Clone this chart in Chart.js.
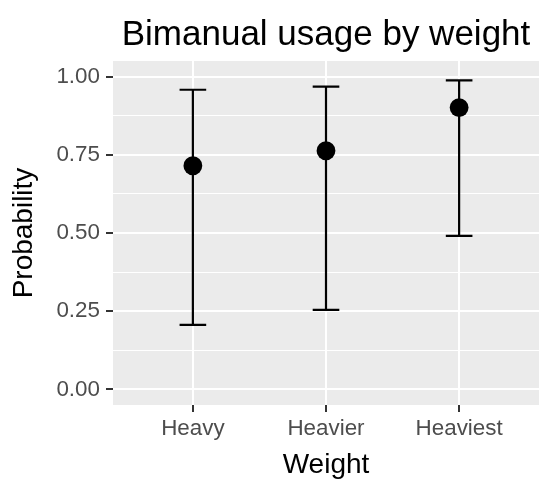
<!DOCTYPE html>
<html>
<head>
<meta charset="utf-8">
<script src="https://cdn.jsdelivr.net/npm/chart.js@4"></script>
<style>
  html, body { margin: 0; padding: 0; background: #fff; }
  #contenedor { width: 539px; height: 483px; }
</style>
</head>
<body>
<div id="contenedor"><canvas id="graficoPeso"></canvas></div>
<script>
// Datos: probabilidad estimada y su intervalo por categoría de peso
const pesos = ['Heavy', 'Heavier', 'Heaviest'];
const probabilidad = [0.715, 0.763, 0.901];
const limiteInf = [0.206, 0.254, 0.491];
const limiteSup = [0.958, 0.968, 0.988];
const ticksY = [0, 0.25, 0.5, 0.75, 1];

const FUENTE = "'Liberation Sans', Arial, Helvetica, sans-serif";
const ANCHO_BARRA = 0.1; // media anchura del remate en unidades del eje x

// ticks menores (sólo rejilla) entre los mayores
const ticksYMenores = ticksY.slice(1).map((v, i) => (v + ticksY[i]) / 2);
const todosTicksY = [...ticksY, ...ticksYMenores].sort((a, b) => a - b);
const esMayor = v => ticksY.some(t => Math.abs(t - v) < 1e-9);

// segmentos de las barras de error: vertical + dos remates, cortados con y:null
const segmentos = [];
pesos.forEach((_, i) => {
  const x = i + 1;
  segmentos.push({ x, y: limiteInf[i] }, { x, y: limiteSup[i] }, { x, y: null });
  segmentos.push({ x: x - ANCHO_BARRA, y: limiteSup[i] }, { x: x + ANCHO_BARRA, y: limiteSup[i] }, { x, y: null });
  segmentos.push({ x: x - ANCHO_BARRA, y: limiteInf[i] }, { x: x + ANCHO_BARRA, y: limiteInf[i] }, { x, y: null });
});

const puntos = probabilidad.map((p, i) => ({ x: i + 1, y: p }));

// fondo gris del panel
const fondoPanel = {
  id: 'fondoPanel',
  beforeDraw(chart) {
    const { ctx, chartArea: a } = chart;
    ctx.save();
    ctx.fillStyle = '#EBEBEB';
    ctx.fillRect(a.left, a.top, a.right - a.left, a.bottom - a.top);
    ctx.restore();
  }
};

const ctx = document.getElementById('graficoPeso').getContext('2d');
new Chart(ctx, {
  type: 'scatter',
  data: {
    datasets: [
      {
        label: 'Probabilidad',
        data: puntos,
        backgroundColor: '#000',
        borderWidth: 0,
        pointRadius: 9.4,
        order: 0
      },
      {
        label: 'Intervalo',
        data: segmentos,
        showLine: true,
        spanGaps: false,
        borderColor: '#000',
        borderWidth: 2.2,
        pointRadius: 0,
        order: 1
      }
    ]
  },
  options: {
    responsive: true,
    maintainAspectRatio: false,
    animation: false,
    layout: { padding: 0, autoPadding: false },
    plugins: {
      legend: { display: false },
      tooltip: { enabled: false },
      title: {
        display: true,
        text: 'Bimanual usage by weight',
        fullSize: false,
        color: '#000',
        font: { family: FUENTE, size: 35, weight: 'normal' },
        padding: { top: 14, bottom: 5 }
      }
    },
    scales: {
      x: {
        type: 'linear',
        min: 0.4,
        max: 3.6,
        afterBuildTicks: s => { s.ticks = pesos.map((_, i) => ({ value: i + 1 })); },
        afterFit: s => { s.height = 78; s.paddingLeft = 0; s.paddingRight = 0; },
        border: { display: false },
        grid: {
          color: '#fff',
          lineWidth: 2,
          tickLength: 7,
          tickColor: '#333',
          tickWidth: 2
        },
        ticks: {
          color: '#4D4D4D',
          font: { family: FUENTE, size: 22.4 },
          padding: 3,
          autoSkip: false,
          maxRotation: 0,
          callback: v => pesos[v - 1] ?? ''
        },
        title: {
          display: true,
          text: 'Weight',
          color: '#000',
          font: { family: FUENTE, size: 28 },
          padding: { top: 0, bottom: 1 }
        }
      },
      y: {
        type: 'linear',
        min: -0.05,
        max: 1.05,
        afterBuildTicks: s => { s.ticks = todosTicksY.map(v => ({ value: v })); },
        afterFit: s => { s.width = 113; s.paddingTop = 0; s.paddingBottom = 0; },
        border: { display: false },
        grid: {
          color: '#fff',
          lineWidth: c => (c.tick && esMayor(c.tick.value)) ? 2 : 1,
          tickLength: 7,
          tickColor: c => (c.tick && esMayor(c.tick.value)) ? '#333' : 'rgba(0,0,0,0)',
          tickWidth: 2
        },
        ticks: {
          color: '#4D4D4D',
          font: { family: FUENTE, size: 22.4 },
          padding: 6,
          autoSkip: false,
          callback: v => esMayor(v) ? v.toFixed(2) : ''
        },
        title: {
          display: true,
          text: 'Probability',
          color: '#000',
          font: { family: FUENTE, size: 28 },
          padding: { top: 7, bottom: 0 }
        }
      }
    }
  },
  plugins: [fondoPanel]
});
</script>
</body>
</html>
